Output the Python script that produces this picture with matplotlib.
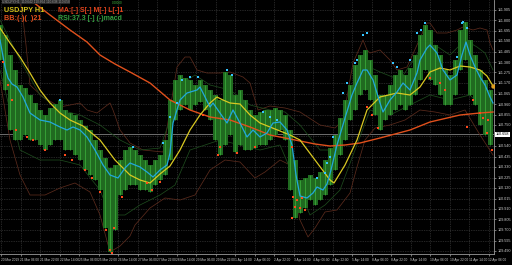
import matplotlib
matplotlib.use("Agg")
import matplotlib.pyplot as plt

# ---- candles (one slot every 5 chart units, hi/lo range) ----
t = list(range(0, 491, 5))
high = [111.75, 111.65, 111.45, 111.30, 111.15, 111.12, 111.05, 110.97, 110.90, 110.85,
        110.92, 110.96, 111.00, 110.90, 110.87, 110.85, 110.80, 110.74, 110.70, 110.60,
        110.50, 110.42, 110.32, 110.35, 110.40, 110.50, 110.53, 110.50, 110.45, 110.40,
        110.35, 110.40, 110.45, 110.60, 111.00, 111.20, 111.25, 111.22, 111.20, 111.15,
        111.20, 111.15, 111.10, 111.05, 111.00, 111.28, 111.25, 111.05, 111.10, 111.00,
        110.90, 110.85, 110.88, 110.90, 110.90, 110.92, 110.90, 110.85, 110.70, 110.40,
        110.20, 110.22, 110.25, 110.22, 110.28, 110.40, 110.52, 110.65, 110.82, 111.00,
        111.15, 111.35, 111.45, 111.50, 111.40, 111.25, 111.05, 111.05, 111.15, 111.25,
        111.30, 111.25, 111.32, 111.45, 111.65, 111.75, 111.70, 111.55, 111.45, 111.30,
        111.25, 111.40, 111.70, 111.78, 111.60, 111.45, 111.30, 111.20, 111.10]
low = [111.40, 111.10, 110.70, 110.60, 110.60, 110.65, 110.60, 110.60, 110.55, 110.50,
       110.55, 110.60, 110.60, 110.50, 110.50, 110.45, 110.40, 110.30, 110.25, 110.20,
       110.10, 109.72, 109.48, 109.70, 110.05, 110.10, 110.15, 110.15, 110.10, 110.10,
       110.08, 110.15, 110.20, 110.25, 110.40, 110.80, 110.90, 110.95, 110.90, 110.95,
       110.98, 110.90, 110.80, 110.60, 110.45, 110.55, 110.65, 110.48, 110.55, 110.50,
       110.50, 110.52, 110.55, 110.55, 110.60, 110.65, 110.70, 110.60, 110.10, 109.82,
       109.87, 109.92, 110.00, 109.95, 110.00, 110.05, 110.15, 110.30, 110.45, 110.60,
       110.80, 110.90, 111.05, 111.10, 111.00, 110.85, 110.70, 110.80, 110.85, 110.90,
       110.95, 110.90, 110.95, 111.05, 111.20, 111.30, 111.20, 111.15, 111.05, 110.95,
       110.95, 111.05, 111.30, 111.40, 111.05, 110.95, 110.75, 110.65, 110.55]

# ---- indicator lines ----
slow_t = [25, 33, 50, 70, 87, 100, 115, 130, 150, 170, 190, 210, 230, 250, 270, 285,
          300, 315, 330, 345, 360, 380, 410, 430, 460, 480, 493]
slow_v = [112.04, 111.98, 111.85, 111.70, 111.58, 111.45, 111.36, 111.28, 111.17, 111.00,
          110.90, 110.83, 110.80, 110.73, 110.65, 110.62, 110.59, 110.56, 110.54, 110.55,
          110.57, 110.62, 110.70, 110.78, 110.85, 110.87, 110.88]

mid_t = [0, 10, 20, 30, 40, 50, 60, 70, 83, 100, 115, 130, 140, 150, 160, 170, 180, 190,
         200, 210, 217, 223, 230, 240, 250, 260, 270, 280, 290, 300, 315, 330, 334, 345,
         357, 367, 380, 397, 410, 420, 430, 440, 450, 460, 470, 480, 487, 493]
mid_v = [111.72, 111.57, 111.43, 111.27, 111.10, 110.97, 110.87, 110.80, 110.74, 110.60,
         110.40, 110.25, 110.20, 110.17, 110.26, 110.34, 110.50, 110.70, 110.85, 110.97,
         111.03, 111.00, 110.97, 110.96, 110.85, 110.77, 110.73, 110.69, 110.65, 110.60,
         110.40, 110.20, 110.17, 110.35, 110.60, 110.90, 111.03, 111.07, 111.05, 111.13,
         111.28, 111.32, 111.30, 111.34, 111.33, 111.30, 111.24, 111.14]

fast_t = [0, 5, 8, 12, 17, 23, 30, 40, 50, 60, 67, 73, 80, 87, 95, 103, 110, 118, 125,
          130, 140, 147, 153, 160, 167, 170, 173, 180, 187, 197, 200, 203, 210, 213, 220,
          227, 233, 240, 247, 253, 260, 267, 273, 280, 287, 292, 296, 300, 307, 313, 317,
          323, 327, 331, 337, 345, 352, 357, 363, 367, 373, 380, 383, 390, 397, 403, 410,
          417, 420, 427, 430, 437, 443, 450, 457, 462, 466, 470, 475, 480, 485, 490, 493]
fast_v = [111.60, 111.33, 111.22, 111.16, 111.13, 111.03, 110.87, 110.80, 110.78, 110.73,
          110.70, 110.73, 110.70, 110.63, 110.50, 110.35, 110.25, 110.22, 110.32, 110.37,
          110.33, 110.28, 110.23, 110.30, 110.35, 110.47, 110.77, 111.00, 111.07, 111.10,
          111.13, 111.07, 110.93, 110.97, 110.87, 110.77, 110.90, 110.77, 110.63, 110.70,
          110.63, 110.67, 110.77, 110.78, 110.70, 110.55, 110.25, 110.04, 110.02, 110.07,
          110.13, 110.10, 110.16, 110.30, 110.55, 110.82, 111.05, 111.17, 111.30, 111.30,
          111.20, 110.97, 110.88, 111.00, 111.08, 111.17, 111.10, 111.27, 111.40, 111.52,
          111.55, 111.47, 111.30, 111.20, 111.25, 111.45, 111.58, 111.45, 111.33, 111.23,
          111.15, 111.03, 110.97]

bb_up_t = [18, 22, 26, 30, 43, 60, 80, 87, 97, 110, 113, 120, 130, 143, 163, 170, 177,
           185, 190, 197, 207, 220, 230, 243, 250, 258, 270, 285, 300, 320, 335, 343,
           353, 360, 363, 367, 370, 380, 390, 397, 407, 417, 427, 430, 437, 447, 457,
           463, 473, 480, 487, 490, 493]
bb_up_v = [112.05, 111.90, 111.55, 111.15, 111.03, 110.93, 110.97, 110.90, 110.87, 110.97,
           110.90, 110.70, 110.57, 110.50, 110.48, 110.90, 111.33, 111.43, 111.43, 111.30,
           111.27, 111.27, 111.28, 111.23, 111.17, 110.90, 110.94, 110.92, 110.88, 110.75,
           110.72, 110.80, 111.37, 111.53, 111.60, 111.50, 111.47, 111.50, 111.40, 111.30,
           111.33, 111.55, 111.77, 111.77, 111.67, 111.67, 111.70, 111.73, 111.70, 111.72,
           111.70, 111.57, 111.50]
bb_lo_t = [0, 10, 20, 30, 45, 60, 75, 90, 100, 110, 120, 130, 135, 150, 165, 180, 195,
           210, 225, 240, 255, 265, 280, 290, 300, 308, 315, 325, 337, 350, 357, 365,
           375, 390, 405, 420, 435, 450, 465, 480, 493]
bb_lo_v = [111.20, 110.60, 110.25, 110.05, 110.05, 110.12, 110.17, 110.08, 109.85, 109.48,
           109.54, 109.64, 109.75, 109.92, 110.02, 110.00, 110.05, 110.30, 110.40, 110.38,
           110.22, 110.28, 110.40, 110.35, 109.80, 109.63, 109.72, 109.88, 109.90, 110.07,
           110.33, 110.60, 110.72, 110.75, 110.80, 110.90, 110.88, 110.85, 110.90, 110.65,
           110.45]

env_up_t = [0, 20, 40, 60, 80, 100, 120, 140, 160, 170, 180, 195, 210, 230, 250, 270,
            285, 300, 320, 335, 350, 365, 380, 400, 420, 435, 450, 465, 477, 485, 493]
env_up_v = [111.80, 111.40, 111.05, 110.90, 110.85, 110.75, 110.60, 110.50, 110.52, 110.80,
            111.15, 111.25, 111.15, 111.10, 110.95, 110.90, 110.88, 110.75, 110.50, 110.50,
            111.00, 111.35, 111.28, 111.20, 111.50, 111.55, 111.45, 111.60, 111.53, 111.47,
            111.30]
env_lo_t = [0, 20, 40, 60, 80, 100, 110, 125, 140, 160, 175, 190, 205, 220, 240, 260,
            280, 295, 310, 325, 340, 355, 370, 390, 410, 430, 450, 470, 485, 493]
env_lo_v = [111.30, 110.50, 110.40, 110.40, 110.35, 110.10, 109.85, 109.85, 109.95, 110.05,
            110.15, 110.50, 110.55, 110.60, 110.55, 110.50, 110.55, 110.20, 109.85, 109.95,
            110.10, 110.50, 110.90, 110.85, 110.95, 111.05, 111.00, 111.05, 110.90, 110.70]

# swing markers
up_dot_t = [60, 133, 163, 170, 177, 182, 190, 198, 227, 232, 263, 270, 277, 317, 325,
            327, 330, 333, 343, 347, 355, 357, 363, 367, 393, 397, 410, 417, 421, 425,
            457, 462, 463, 467]
up_dot_v = [111.00, 110.53, 110.57, 110.83, 110.97, 111.20, 111.23, 111.23, 111.30, 111.25,
            110.88, 110.83, 110.80, 110.22, 110.27, 110.37, 110.43, 110.63, 111.07, 111.17,
            111.37, 111.40, 111.65, 111.67, 111.37, 111.33, 111.40, 111.67, 111.70, 111.77,
            111.43, 111.77, 111.78, 111.72]
dn_dot_t = [3, 8, 12, 16, 27, 33, 45, 65, 72, 85, 92, 100, 106, 110, 112, 114, 122, 147,
            152, 160, 203, 218, 220, 237, 255, 292, 292, 293, 295, 297, 300, 302, 305,
            367, 372, 378, 430, 440, 445, 467, 473, 480, 483, 488, 487, 492]
dn_dot_v = [111.38, 111.15, 111.00, 110.70, 110.63, 110.60, 110.50, 110.45, 110.40, 110.30,
            110.22, 110.08, 109.70, 109.50, 109.47, 109.72, 110.03, 110.17, 110.10, 110.18,
            110.85, 110.45, 110.53, 110.47, 110.53, 110.53, 109.82, 110.03, 109.93, 110.00,
            109.92, 110.02, 109.90, 110.93, 110.85, 110.72, 111.22, 111.17, 111.10, 110.73,
            111.00, 110.87, 110.82, 110.80, 110.67, 110.50]

last_price = 110.658

# axis labels
price_ticks = [111.905, 111.800, 111.695, 111.590, 111.485, 111.380, 111.275, 111.170,
               111.065, 110.960, 110.855, 110.750, 110.645, 110.540, 110.435, 110.330,
               110.225, 110.120, 110.015, 109.910, 109.805, 109.700, 109.595, 109.490]
time_labels = ["20 Mar 2019", "21 Mar 06:00", "21 Mar 22:00", "22 Mar 14:00", "25 Mar 06:00",
               "25 Mar 22:00", "26 Mar 14:00", "27 Mar 06:00", "27 Mar 22:00", "28 Mar 14:00",
               "29 Mar 06:00", "29 Mar 22:00", "1 Apr 14:00", "2 Apr 06:00", "2 Apr 22:00",
               "3 Apr 14:00", "4 Apr 06:00", "4 Apr 22:00", "5 Apr 14:00", "8 Apr 06:00",
               "8 Apr 22:00", "9 Apr 14:00", "10 Apr 06:00", "10 Apr 22:00", "11 Apr 14:00",
               "12 Apr 06:00"]
time_ticks = [1 + 19.5 * k for k in range(len(time_labels))]

plt.rcParams['font.family'] = ['Liberation Sans', 'DejaVu Sans']

fig = plt.figure(figsize=(5.12, 2.65), dpi=100, facecolor='black')
ax = fig.add_axes([0, 11 / 265, 494 / 512, 254 / 265], facecolor='black')

ax.set_xlim(0, 494)
ax.set_ylim(109.46, 112.00)

# grid + axis labels (the price box covers the label under it, as in MT4)
ax.set_yticks(price_ticks)
ax.set_yticklabels(["" if abs(p - last_price) < 0.05 else "%.3f" % p for p in price_ticks])
ax.set_xticks(time_ticks)
ax.set_xticklabels(time_labels, ha='left')
ax.grid(True, color='#4a4a4a', linestyle=(0, (1, 1.5)), linewidth=0.5)
ax.set_axisbelow(True)

ax.yaxis.tick_right()
ax.tick_params(axis='y', colors='#cfcfcf', labelsize=2.7, length=1.5, width=0.4, pad=1)
ax.tick_params(axis='x', colors='#cfcfcf', labelsize=2.3, length=1.5, width=0.4, pad=1.5)
for s in ['top', 'left']:
    ax.spines[s].set_visible(False)
for s in ['right', 'bottom']:
    ax.spines[s].set_color('#9a9a9a')
    ax.spines[s].set_linewidth(0.6)

# bid line
ax.axhline(last_price, color='#6e6e6e', linewidth=0.7, zorder=1)

# bands
ax.plot(bb_up_t, bb_up_v, color='#5a2a1c', lw=0.55)
ax.plot(bb_lo_t, bb_lo_v, color='#5a2a1c', lw=0.55)
ax.plot(env_up_t, env_up_v, color='#1d4a1d', lw=0.55)
ax.plot(env_lo_t, env_lo_v, color='#1d4a1d', lw=0.55)

# candles
hl = [h - l for h, l in zip(high, low)]
ax.bar(t, hl, bottom=low, width=5.0, color='#206a20', linewidth=0, zorder=2)
ax.vlines(t, low, high, color='#38a838', linewidth=0.6, zorder=2)

# moving averages
ax.plot(slow_t, slow_v, color='#e0501c', lw=1.0, zorder=3)
ax.plot(mid_t, mid_v, color='#d9c822', lw=0.9, zorder=3)
ax.plot(fast_t, fast_v, color='#22a8dc', lw=0.9, zorder=4)
ax.plot(mid_t[-1:], mid_v[-1:], 'o', color='#e0a020', ms=2.2, zorder=4)

ax.plot(up_dot_t, up_dot_v, 's', color='#36c4ff', ms=1.5, mew=0, zorder=5)
ax.plot(dn_dot_t, dn_dot_v, 's', color='#ff4a1c', ms=1.6, mew=0, zorder=5)

# current price box
ax.text(1.004, last_price, "%.3f" % last_price, transform=ax.get_yaxis_transform(),
        fontsize=2.7, color='black', va='center', ha='left', clip_on=False,
        bbox=dict(boxstyle='square,pad=0.15', fc='white', ec='none'))

# header texts
fig.text(2 / 512, 1 - 2 / 265, "USDJPY,H1  110.642 110.664 110.638 110.658", fontsize=2.3,
         color='#9a9a9a', va='center', ha='left',
         bbox=dict(boxstyle='square,pad=0.15', fc='#2a2a2a', ec='none'))
fig.text(112 / 512, 1 - 3 / 265, "0.00000", fontsize=2.2, color='#40c040', va='center', ha='left')
fig.text(4 / 512, 1 - 10 / 265, "USDJPY H1", fontsize=5.2, fontweight='bold', color='#d6c21a', va='center')
fig.text(4 / 512, 1 - 19 / 265, "BB:(-)(  )21", fontsize=5.2, fontweight='bold', color='#e2501e', va='center')
fig.text(58 / 512, 1 - 10 / 265, "MA:[-] S[-] M[-] L[-]1", fontsize=5.0, fontweight='bold', color='#e2441c', va='center')
fig.text(58 / 512, 1 - 19 / 265, "RSI:37.3 [-] (-)macd", fontsize=5.0, fontweight='bold', color='#34a040', va='center')

plt.savefig('out.png', dpi=100, facecolor='black')
plt.close()
